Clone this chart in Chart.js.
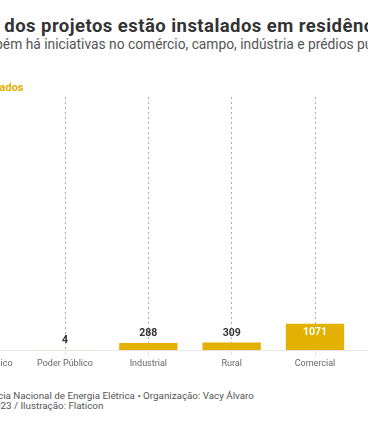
<!DOCTYPE html>
<html lang="pt-BR">
<head>
<meta charset="utf-8">
<script src="https://cdn.jsdelivr.net/npm/chart.js@4"></script>
<style>
  html, body { margin: 0; padding: 0; background: #fff; }
  body { width: 368px; height: 445px; overflow: hidden; position: relative; font-family: Roboto, sans-serif; }
  .txt { position: absolute; white-space: nowrap; }
  #titulo { left: -37px; top: 15px; font-size: 18.5px; letter-spacing: 0.45px; font-weight: 700; color: #333; }
  #subtitulo { left: -32px; top: 36px; font-size: 13.8px; color: #555; }
  #legenda { left: -28px; top: 81px; font-size: 11px; font-weight: 700; color: #e3b102; }
  #rodape { left: -54px; top: 391px; font-size: 9.8px; line-height: 9.5px; color: #555; }
  #grafico { position: absolute; left: -59.7px; top: 97px; width: 500px; height: 275px; }
</style>
</head>
<body>
<div class="txt" id="titulo">86% dos projetos estão instalados em residências</div>
<div class="txt" id="subtitulo">Também há iniciativas no comércio, campo, indústria e prédios públicos</div>
<div class="txt" id="legenda">Instalados</div>
<div class="txt" id="rodape">Fonte: Agência Nacional de Energia Elétrica • Organização: Vacy Álvaro<br>Dados de 2023 / Ilustração: Flaticon</div>
<div id="grafico"><canvas id="c"></canvas></div>
<script>
// Dados do gráfico
const categorias = ['Serviço Público', 'Poder Público', 'Industrial', 'Rural', 'Comercial', 'Residencial'];
const instalados = [2, 4, 288, 309, 1071, 10225];

const corBarra = '#e3b102';

// Plugin simples para escrever o valor de cada barra
const rotulosValor = {
    id: 'rotulosValor',
    afterDatasetsDraw(chart) {
        const ctx = chart.ctx;
        const meta = chart.getDatasetMeta(0);
        ctx.save();
        ctx.font = 'bold 10.5px Roboto, sans-serif';
        ctx.textAlign = 'center';
        meta.data.forEach((bar, i) => {
            const alto = bar.base - bar.y;
            if (alto > 15) {
                ctx.fillStyle = '#fff';
                ctx.textBaseline = 'top';
                ctx.fillText(instalados[i], bar.x, bar.y + 3);
            } else {
                ctx.fillStyle = '#333';
                ctx.textBaseline = 'bottom';
                ctx.fillText(instalados[i], bar.x, bar.y - 4);
            }
        });
        ctx.restore();
    }
};

new Chart(document.getElementById('c'), {
    type: 'bar',
    data: {
        labels: categorias,
        datasets: [{
            label: 'Instalados',
            data: instalados,
            backgroundColor: corBarra,
            barPercentage: 0.7,
            categoryPercentage: 1
        }]
    },
    options: {
        responsive: true,
        maintainAspectRatio: false,
        animation: false,
        layout: { padding: 0 },
        plugins: {
            legend: { display: false },
            tooltip: { enabled: false }
        },
        scales: {
            x: {
                offset: true,
                grid: {
                    offset: false,
                    drawTicks: true,
                    tickLength: 5,
                    tickColor: '#e2e2e2',
                    tickBorderDash: [],
                    color: '#aaa',
                    lineWidth: 1
                },
                border: { display: true, color: '#e8e8e8', dash: [2, 3] },
                ticks: {
                    color: '#666',
                    font: { family: 'Roboto', size: 9 },
                    padding: 3
                }
            },
            y: {
                display: false,
                beginAtZero: true,
                max: Math.max(...instalados)
            }
        }
    },
    plugins: [rotulosValor]
});
</script>
</body>
</html>
